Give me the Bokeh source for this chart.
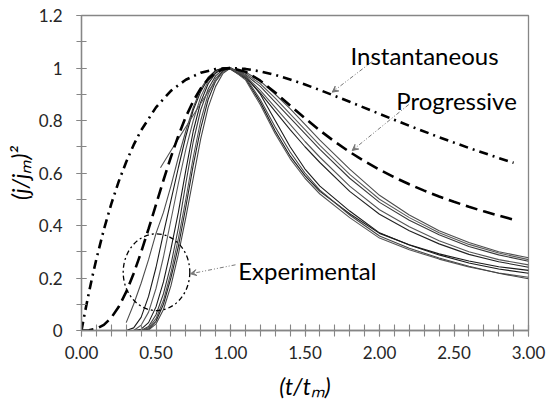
import math
from bokeh.plotting import figure
from bokeh.models import Label, Arrow, VeeHead, Range1d, FixedTicker, PrintfTickFormatter, Title
from bokeh.embed import file_html
from bokeh.resources import INLINE

# ---------------- data ----------------
# Theoretical curves
inst_t = [0, 0.01, 0.025, 0.05, 0.075, 0.1, 0.15, 0.2, 0.25, 0.3, 0.35, 0.4, 0.5, 0.6, 0.7,
          0.8, 0.9, 1.0, 1.1, 1.2, 1.3, 1.4, 1.5, 1.6, 1.8, 2.0, 2.2, 2.4, 2.6, 2.8, 2.9]
inst_y = [0, 0.0305, 0.0747, 0.1449, 0.2107, 0.2724, 0.3844, 0.4825, 0.5681, 0.6421, 0.7068,
          0.7624, 0.8501, 0.9130, 0.9553, 0.9818, 0.9959, 1.0, 0.9965, 0.9872, 0.9735, 0.9565,
          0.9372, 0.9160, 0.8712, 0.8252, 0.7798, 0.7364, 0.6954, 0.6571, 0.6391]

prog_t = [0, 0.05, 0.1, 0.15, 0.2, 0.25, 0.3, 0.35, 0.4, 0.45, 0.5, 0.55, 0.6, 0.65, 0.7, 0.75,
          0.8, 0.85, 0.9, 0.95, 1.0, 1.1, 1.2, 1.3, 1.4, 1.5, 1.6, 1.7, 1.8, 1.9, 2.0, 2.1, 2.2,
          2.3, 2.4, 2.5, 2.6, 2.7, 2.8, 2.9]
prog_y = [0, 0.0008, 0.0065, 0.0214, 0.0488, 0.0905, 0.1469, 0.2170, 0.2980, 0.3870, 0.4798,
          0.5723, 0.6607, 0.7421, 0.8137, 0.8739, 0.9221, 0.9579, 0.9822, 0.9958, 1.0, 0.9861,
          0.9518, 0.9066, 0.8574, 0.8084, 0.7620, 0.7191, 0.6801, 0.6447, 0.6127, 0.5835,
          0.5570, 0.5328, 0.5106, 0.4902, 0.4713, 0.4539, 0.4376, 0.4226]

# Experimental transients
exp_t = [0.30, 0.35, 0.40, 0.45, 0.50, 0.55, 0.60, 0.65, 0.70, 0.75, 0.80, 0.85, 0.90, 0.95,
         1.00, 1.1, 1.2, 1.3, 1.4, 1.5, 1.6, 1.8, 2.0, 2.2, 2.4, 2.6, 2.8, 3.0]
exp1 = [0.03, 0.10, 0.18, 0.27, 0.37, 0.45, 0.55, 0.66, 0.76, 0.85, 0.92, 0.965, 0.99, 1.0, 0.995,
        0.985, 0.95, 0.90, 0.845, 0.785, 0.725, 0.615, 0.515, 0.44, 0.38, 0.335, 0.30, 0.277]
exp2 = [0.0, 0.01, 0.05, 0.13, 0.24, 0.37, 0.495, 0.62, 0.74, 0.84, 0.91, 0.96, 0.99, 1.0, 0.995,
        0.96, 0.87, 0.76, 0.665, 0.59, 0.53, 0.445, 0.37, 0.327, 0.292, 0.265, 0.243, 0.229]
exp3 = [0.0, 0.0, 0.02, 0.07, 0.16, 0.28, 0.42, 0.56, 0.69, 0.80, 0.89, 0.95, 0.985, 1.0, 0.995,
        0.98, 0.94, 0.885, 0.825, 0.765, 0.705, 0.595, 0.50, 0.43, 0.372, 0.328, 0.295, 0.27]
exp4 = [0.0, 0.0, 0.005, 0.03, 0.09, 0.185, 0.31, 0.45, 0.61, 0.76, 0.87, 0.94, 0.98, 1.0, 1.0,
        0.97, 0.90, 0.80, 0.70, 0.615, 0.55, 0.455, 0.372, 0.326, 0.288, 0.257, 0.234, 0.218]
exp5 = [0.0, 0.0, 0.0, 0.015, 0.06, 0.14, 0.25, 0.39, 0.56, 0.72, 0.84, 0.92, 0.97, 0.995, 1.0,
        0.975, 0.93, 0.87, 0.81, 0.75, 0.69, 0.58, 0.488, 0.42, 0.365, 0.32, 0.288, 0.264]
exp6 = [0.0, 0.0, 0.0, 0.01, 0.045, 0.115, 0.22, 0.35, 0.50, 0.66, 0.80, 0.90, 0.96, 0.99, 1.0,
        0.955, 0.86, 0.75, 0.655, 0.58, 0.52, 0.43, 0.352, 0.308, 0.272, 0.242, 0.219, 0.203]
exp7 = [0.0, 0.0, 0.0, 0.005, 0.035, 0.10, 0.20, 0.32, 0.47, 0.63, 0.77, 0.88, 0.95, 0.99, 1.0,
        0.965, 0.905, 0.835, 0.765, 0.70, 0.64, 0.53, 0.443, 0.38, 0.33, 0.29, 0.262, 0.241]
exp8 = [0.0, 0.0, 0.0, 0.002, 0.025, 0.08, 0.17, 0.29, 0.43, 0.58, 0.73, 0.85, 0.93, 0.98, 1.0,
        0.965, 0.88, 0.775, 0.68, 0.60, 0.535, 0.44, 0.36, 0.313, 0.276, 0.245, 0.218, 0.197]
exp9_t = [0.53, 0.60, 0.65, 0.70, 0.75, 0.80, 0.85, 0.90, 0.95, 1.00, 1.1, 1.2, 1.3, 1.4, 1.5,
          1.6, 1.8, 2.0, 2.2, 2.4, 2.6, 2.8, 3.0]
exp9 = [0.62, 0.685, 0.73, 0.775, 0.82, 0.865, 0.91, 0.95, 0.985, 1.0,
        0.97, 0.915, 0.85, 0.785, 0.72, 0.66, 0.55, 0.46, 0.395, 0.342, 0.30, 0.27, 0.25]

exp_series = [exp1, exp2, exp3, exp4, exp5, exp6, exp7, exp8]
exp_colors = ["#4d4d4d", "#1a1a1a", "#5a5a5a", "#1a1a1a", "#3a3a3a", "#555555", "#222222", "#444444"]

x_ticks = [0.0, 0.5, 1.0, 1.5, 2.0, 2.5, 3.0]
y_ticks = [0, 0.2, 0.4, 0.6, 0.8, 1, 1.2]
y_tick_labels = ["0", "0.2", "0.4", "0.6", "0.8", "1", "1.2"]
x_title = "(t/t\u2098)"
y_title = "(j/j\u2098)\u00b2"

# ---------------- layout helpers (reference pixel -> data) ----------------
FL, FT, FR, FB = 81.0, 15.0, 528.0, 330.0
XMAX, YMAX = 3.0, 1.2
PX_T = (FR - FL) / XMAX
PX_Y = (FB - FT) / YMAX


def tx(px):
    return (px - FL) / PX_T


def ty(py):
    return (FB - py) / PX_Y


FONT = "Lato"
AX = "#868686"

p = figure(width=550, height=407, output_backend="svg", toolbar_location=None,
           x_range=Range1d(0, XMAX), y_range=Range1d(0, YMAX),
           min_border_left=81, min_border_right=22, min_border_top=15, min_border_bottom=77)
p.background_fill_color = "white"
p.border_fill_color = "white"
p.outline_line_color = AX
p.outline_line_width = 1.3
p.xgrid.visible = False
p.ygrid.visible = False

p.xaxis.ticker = FixedTicker(ticks=x_ticks, minor_ticks=[i / 10 for i in range(31)])
p.xaxis.formatter = PrintfTickFormatter(format="%.2f")
p.yaxis.ticker = FixedTicker(ticks=y_ticks, minor_ticks=[i / 10 for i in range(13)])
p.yaxis.major_label_overrides = dict(zip(y_ticks, y_tick_labels))

for ax in (p.xaxis[0], p.yaxis[0]):
    ax.axis_line_color = AX
    ax.axis_line_width = 1.3
    ax.major_tick_line_color = AX
    ax.minor_tick_line_color = AX
    ax.major_tick_line_width = 1.1
    ax.minor_tick_line_width = 1.1
    ax.major_label_text_font = FONT
    ax.major_label_text_font_size = "17px"
    ax.major_label_text_color = "#262626"
p.xaxis.major_tick_in = 6
p.xaxis.major_tick_out = 6
p.xaxis.minor_tick_in = 6
p.xaxis.minor_tick_out = 6
p.xaxis.major_label_standoff = 9
p.yaxis.major_tick_in = 5
p.yaxis.major_tick_out = 5
p.yaxis.minor_tick_in = 5
p.yaxis.minor_tick_out = 5
p.yaxis.major_label_standoff = 14

p.xaxis.axis_label = x_title
p.xaxis.axis_label_text_font = FONT
p.xaxis.axis_label_text_font_style = "italic"
p.xaxis.axis_label_text_font_size = "23px"
p.xaxis.axis_label_text_color = "black"
p.xaxis.axis_label_standoff = 10

p.add_layout(Title(text=y_title, align="center", offset=25, text_font=FONT,
                   text_font_style="italic", text_font_size="23px", text_color="black",
                   standoff=4), "left")

# ---------------- curves ----------------
for ys, c in zip(exp_series, exp_colors):
    p.line(exp_t, ys, line_color=c, line_width=1.1)
p.line(exp9_t, exp9, line_color="#555555", line_width=1.1)

p.line(prog_t, prog_y, line_color="black", line_width=2.6, line_dash="12 6")
p.line(inst_t, inst_y, line_color="black", line_width=2.6, line_dash="9 5 2 5")

# ---------------- annotations ----------------
ell_cx, ell_cy, ell_w, ell_h = 156, 271.7, 66.6, 76.7
p.ellipse(x=[tx(ell_cx)], y=[ty(ell_cy)], width=[ell_w / PX_T], height=[ell_h / PX_Y],
          fill_color=None, line_color="black", line_width=1.3, line_dash="5 3 2 3")

arrows = [((371.7, 61.0), (331.7, 91.7)),
          ((408.3, 104.0), (351.7, 150.0)),
          ((235.0, 264.3), (190.0, 273.3))]
for (sx, sy), (ex, ey) in arrows:
    p.add_layout(Arrow(end=VeeHead(size=6, line_color="#777777", fill_color="#777777", line_width=1),
                       x_start=tx(sx), y_start=ty(sy), x_end=tx(ex), y_end=ty(ey),
                       line_color="#777777", line_width=1, line_dash="4 2 1 2 1 2"))

for txt, lx, ly in [("Instantaneous", 350, 55), ("Progressive", 395.7, 99.5), ("Experimental", 237.7, 270)]:
    p.add_layout(Label(x=tx(lx), y=ty(ly), text=txt, text_font=FONT, text_font_size="24px",
                       text_color="black", text_align="left", text_baseline="alphabetic"))

open("out.html", "w").write(file_html(p, INLINE))
